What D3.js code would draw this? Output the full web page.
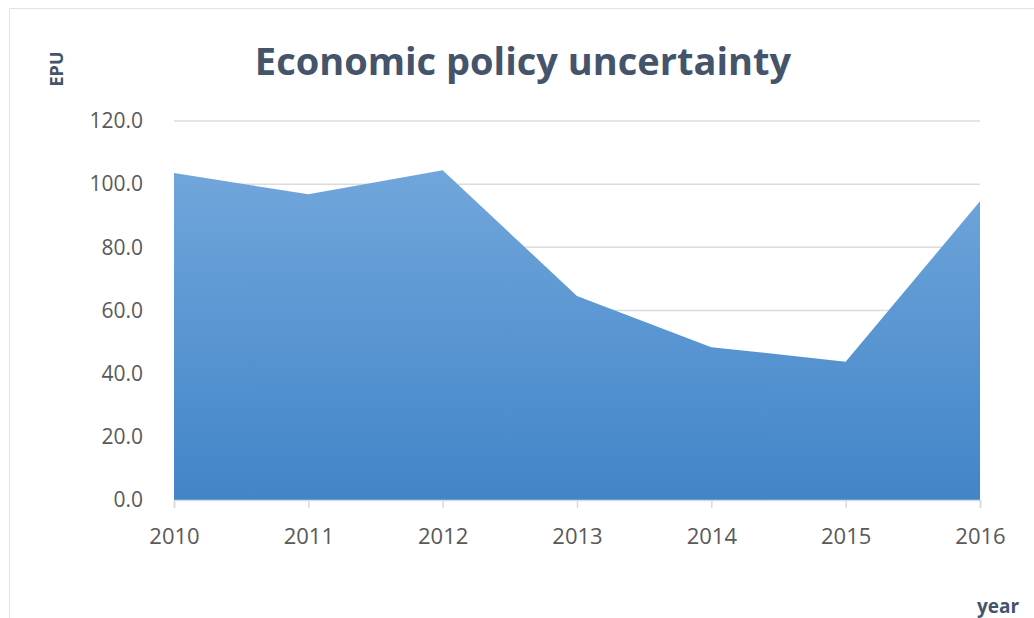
<!DOCTYPE html>
<html>
<head>
<meta charset="utf-8">
<script src="https://cdn.jsdelivr.net/npm/d3@7"></script>
<style>
  body { margin: 0; background: #fff; }
  svg { display: block; }
</style>
</head>
<body>
<div id="chart"></div>
<script>
// Data
const years = [2010, 2011, 2012, 2013, 2014, 2015, 2016];
const epu = [103.5, 96.8, 104.4, 64.6, 48.4, 43.8, 94.6];
const yTicks = [0, 20, 40, 60, 80, 100, 120];

const W = 1034, H = 618;
const margin = { top: 121, right: 54, bottom: 118, left: 174 };
const width = W - margin.left - margin.right;
const height = H - margin.top - margin.bottom;

const svg = d3.select("#chart")
    .append("svg")
    .attr("width", W)
    .attr("height", H);

// Outer frame
svg.append("rect")
    .attr("x", 9.5).attr("y", 8.5)
    .attr("width", W).attr("height", H)
    .attr("fill", "none")
    .attr("stroke", "#e3e3e3");

// Gradient for area
const grad = svg.append("defs").append("linearGradient")
    .attr("id", "area-grad")
    .attr("x1", "0%").attr("y1", "0%")
    .attr("x2", "0%").attr("y2", "100%");
grad.append("stop").attr("offset", "0%").attr("stop-color", "#71a6db");
grad.append("stop").attr("offset", "100%").attr("stop-color", "#4185c8");

const g = svg.append("g")
    .attr("transform", `translate(${margin.left},${margin.top})`);

const x = d3.scaleLinear()
    .domain(d3.extent(years))
    .range([0, width]);

const y = d3.scaleLinear()
    .domain([0, 120])
    .range([height, 0]);

// Gridlines
g.append("g")
    .selectAll("line")
    .data(yTicks.filter(d => d > 0))
    .join("line")
    .attr("x1", 0).attr("x2", width)
    .attr("y1", d => y(d)).attr("y2", d => y(d))
    .attr("stroke", "#dcdcdc")
    .attr("stroke-width", 1.5);

// Area
const area = d3.area()
    .x((d, i) => x(years[i]))
    .y0(y(0))
    .y1(d => y(d));

g.append("path")
    .datum(epu)
    .attr("d", area)
    .attr("fill", "url(#area-grad)");

// Y axis
const yAxis = g.append("g")
    .call(d3.axisLeft(y).tickValues(yTicks).tickFormat(d3.format(".1f")).tickSize(0).tickPadding(31));
yAxis.select(".domain").remove();
yAxis.selectAll("text")
    .attr("fill", "#595959")
    .style("font-family", "'Open Sans', sans-serif")
    .style("font-size", "21px");

// X axis
const xAxis = g.append("g")
    .attr("transform", `translate(0,${height})`)
    .call(d3.axisBottom(x).tickValues(years).tickFormat(d3.format("d")).tickSize(8).tickPadding(20));
xAxis.select(".domain").attr("stroke", "#d9d9d9").attr("stroke-width", 1.5);
xAxis.selectAll(".tick line").attr("stroke", "#d9d9d9").attr("stroke-width", 1.5);
xAxis.selectAll("text")
    .attr("fill", "#595959")
    .style("font-family", "'Open Sans', sans-serif")
    .style("font-size", "22px");

// Title
svg.append("text")
    .attr("x", 523)
    .attr("y", 75)
    .attr("text-anchor", "middle")
    .attr("fill", "#44546a")
    .style("font-family", "'Open Sans', sans-serif")
    .style("font-weight", "bold")
    .style("font-size", "38px")
    .text("Economic policy uncertainty");

// Axis titles
svg.append("text")
    .attr("transform", "translate(63,69) rotate(-90)")
    .attr("text-anchor", "middle")
    .attr("fill", "#44546a")
    .style("font-family", "'Open Sans', sans-serif")
    .style("font-weight", "bold")
    .style("font-size", "18px")
    .text("EPU");

svg.append("text")
    .attr("x", 998)
    .attr("y", 613)
    .attr("text-anchor", "middle")
    .attr("fill", "#44546a")
    .style("font-family", "'Open Sans', sans-serif")
    .style("font-weight", "bold")
    .style("font-size", "19px")
    .text("year");
</script>
</body>
</html>
